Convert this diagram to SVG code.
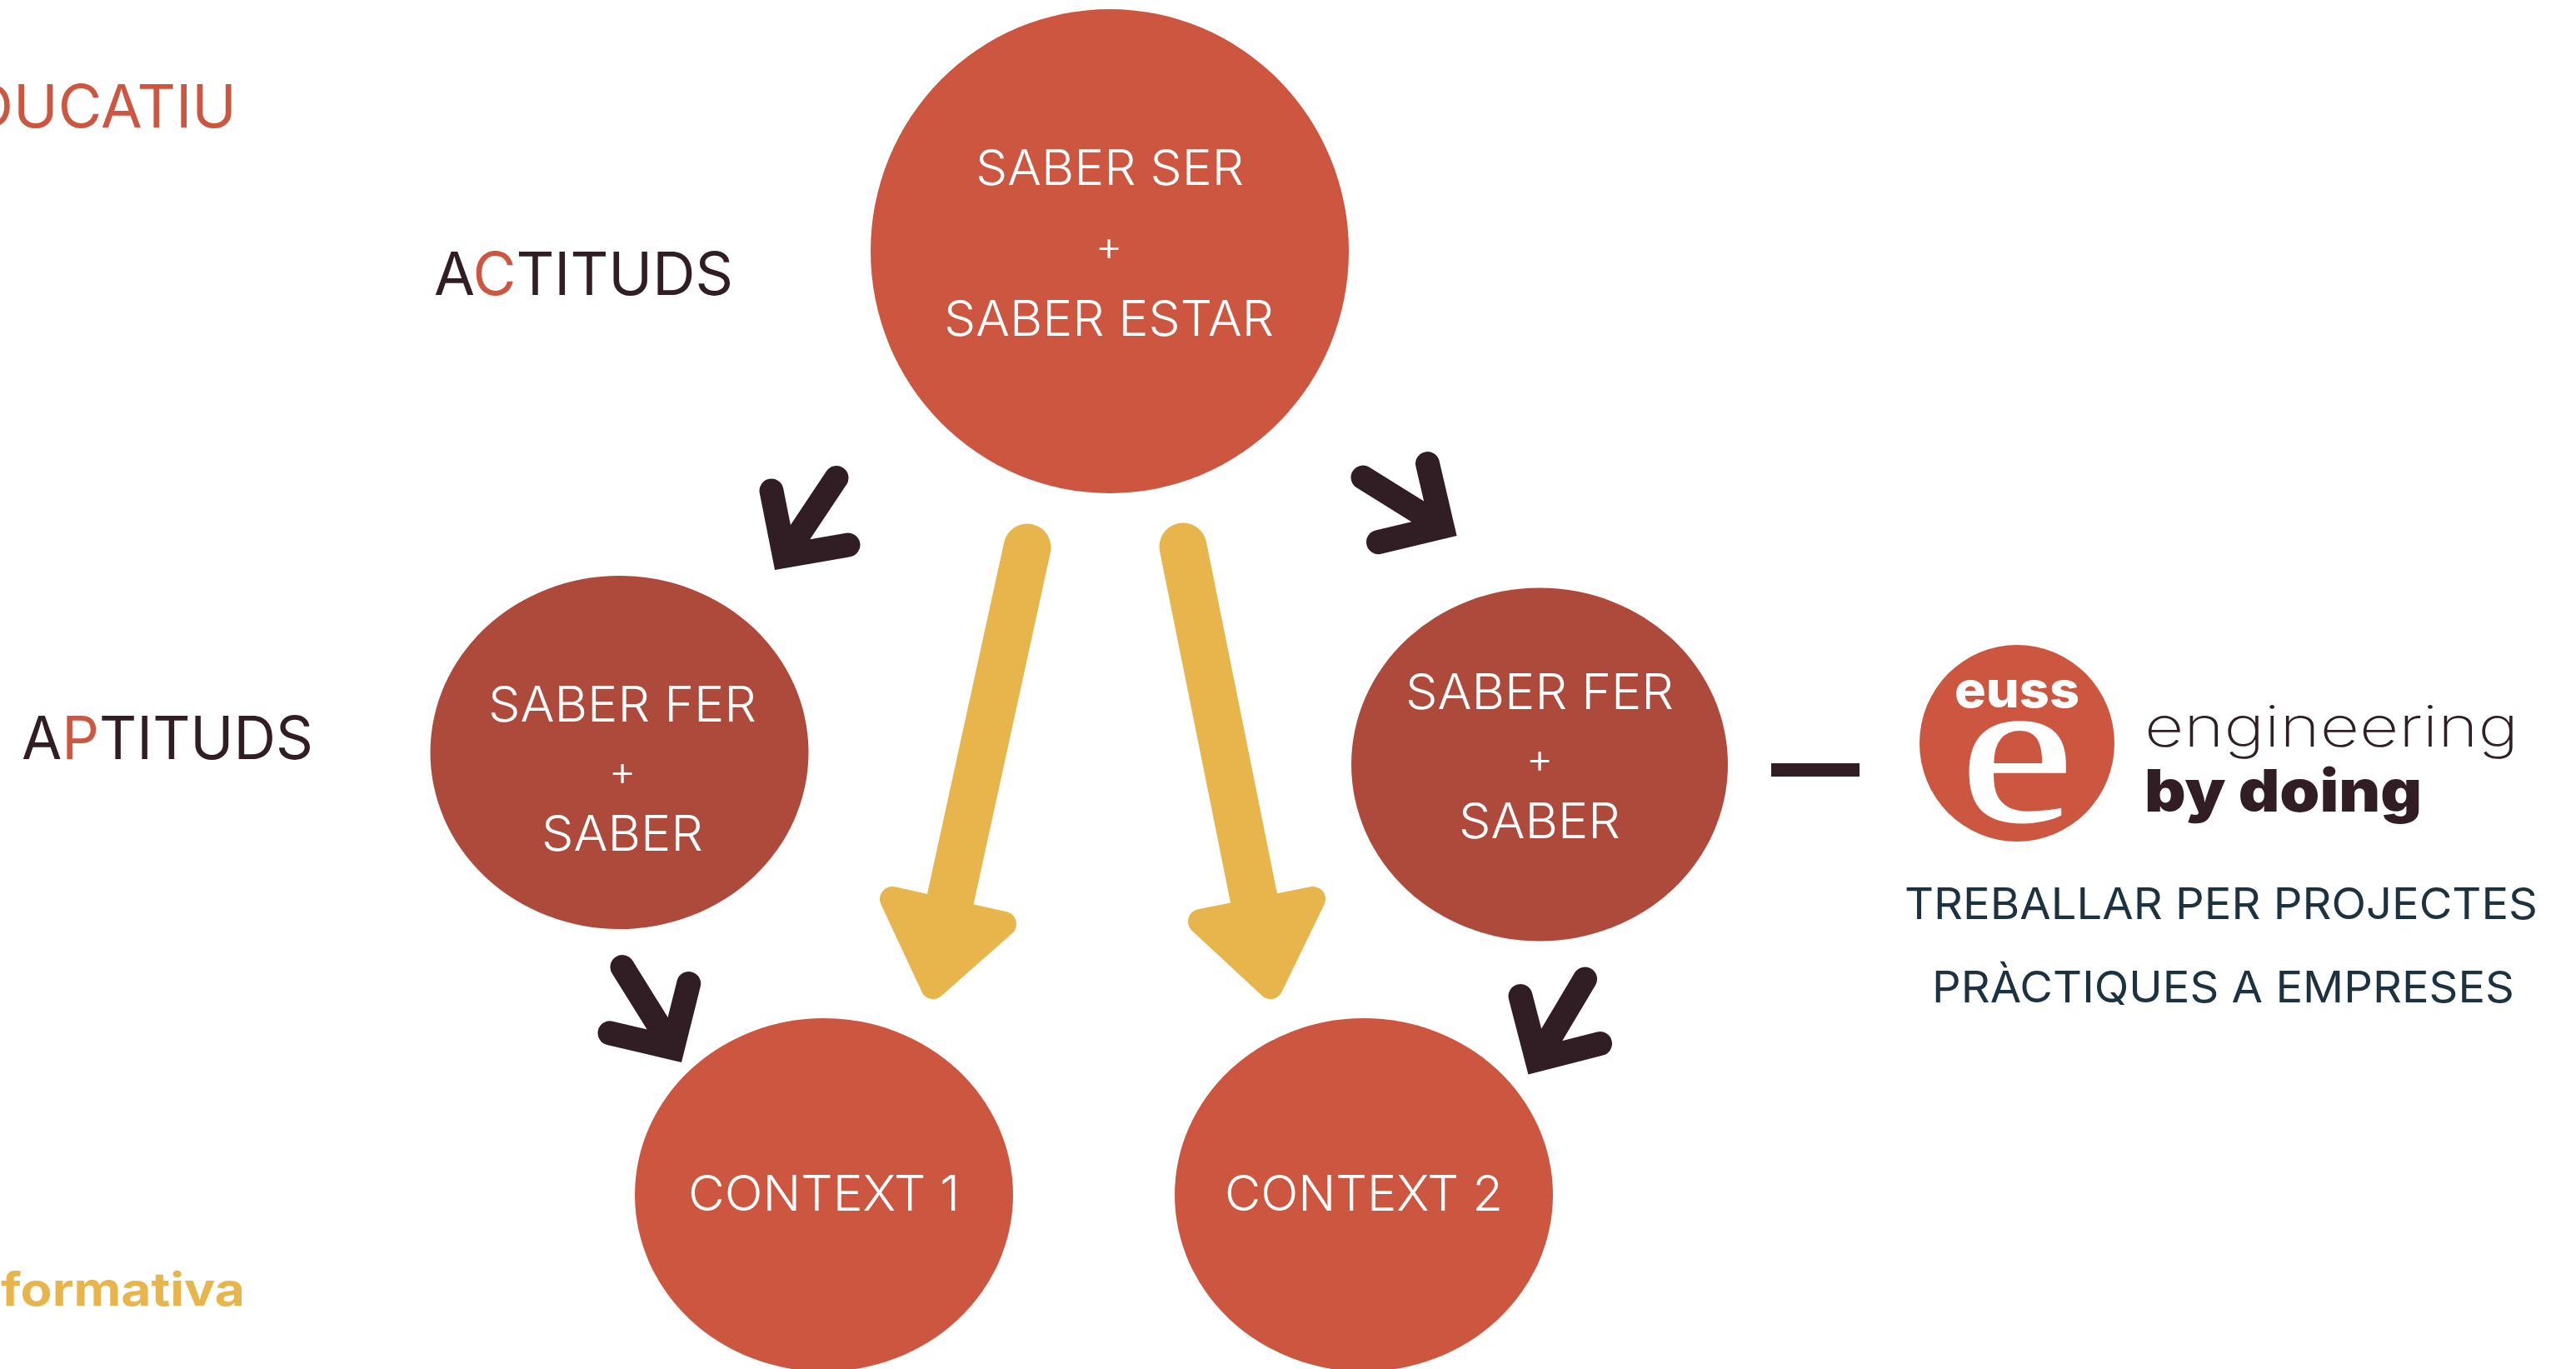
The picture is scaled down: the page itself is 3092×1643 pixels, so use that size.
<svg xmlns="http://www.w3.org/2000/svg" width="3092" height="1643" viewBox="0 0 3092 1643">
<style>
text{font-family:"Inter","Liberation Sans",sans-serif;font-weight:300;font-variant-ligatures:none}
.w{fill:#fff;font-size:59px;font-weight:350}
.p{fill:#fff;font-size:50px;text-anchor:middle}
.l{fill:#311D24;font-size:71px;font-weight:400}
.c{fill:#CC563F}
.n{fill:#1C3240;font-size:52px;font-weight:400}
.coral{fill:#CC563F}
.brick{fill:#AE4A3B}
.gold{fill:#E8B54D}
.dark{fill:#311D24}
.ga{fill:none;stroke:#E8B54D;stroke-width:57;stroke-linecap:round}
.gh{fill:#E8B54D;stroke:#E8B54D;stroke-width:30;stroke-linejoin:round}
.da{fill:none;stroke:#311D24;stroke-width:29;stroke-linecap:round;stroke-linejoin:miter}
</style>
<rect width="3092" height="1643" fill="#fff"/>
<g id="label-educatiu"><text class="l c" x="-36" y="153" textLength="320" lengthAdjust="spacingAndGlyphs">DUCATIU</text></g>
<g id="label-actituds"><text class="l" x="521" y="354" textLength="359" lengthAdjust="spacingAndGlyphs">A<tspan class="c">C</tspan>TITUDS</text></g>
<g id="label-aptituds"><text class="l" x="26" y="911" textLength="350" lengthAdjust="spacingAndGlyphs">A<tspan class="c">P</tspan>TITUDS</text></g>
<g id="label-formativa"><text x="1" y="1567" textLength="293" lengthAdjust="spacingAndGlyphs" style="font-size:55px;font-weight:700;fill:#E8B54D">formativa</text></g>
<g id="node-saber-ser">
<ellipse class="coral" cx="1332" cy="301.5" rx="287" ry="290.5"/>
<text class="w" x="1171" y="222" textLength="322" lengthAdjust="spacingAndGlyphs">SABER SER</text>
<text class="p" x="1331" y="313">+</text>
<text class="w" x="1133" y="403" textLength="396" lengthAdjust="spacingAndGlyphs">SABER ESTAR</text>
</g>
<g id="node-saber-fer-1">
<ellipse class="brick" cx="743.5" cy="903" rx="227" ry="212"/>
<text class="w" x="586" y="866" textLength="322" lengthAdjust="spacingAndGlyphs">SABER FER</text>
<text class="p" x="747" y="943">+</text>
<text class="w" x="650" y="1021" textLength="194" lengthAdjust="spacingAndGlyphs">SABER</text>
</g>
<g id="node-saber-fer-2">
<ellipse class="brick" cx="1848" cy="917.5" rx="226" ry="212"/>
<text class="w" x="1687" y="851" textLength="322" lengthAdjust="spacingAndGlyphs">SABER FER</text>
<text class="p" x="1848" y="928">+</text>
<text class="w" x="1751" y="1006" textLength="194" lengthAdjust="spacingAndGlyphs">SABER</text>
</g>
<g id="node-context-1">
<ellipse class="coral" cx="989" cy="1434" rx="227" ry="212"/>
<text class="w" x="826" y="1453" textLength="326" lengthAdjust="spacingAndGlyphs">CONTEXT 1</text>
</g>
<g id="node-context-2">
<ellipse class="coral" cx="1637" cy="1434" rx="227" ry="212"/>
<text class="w" x="1470" y="1453" textLength="334" lengthAdjust="spacingAndGlyphs">CONTEXT 2</text>
</g>
<g id="connectors">
<path class="ga" d="M1233 657L1141 1078"/>
<path class="gh" d="M1071 1079L1205 1109L1120 1184Z"/>
<path class="ga" d="M1420 656L1505 1078"/>
<path class="gh" d="M1441 1106L1576 1079L1525 1184Z"/>
<path class="da" d="M926 589L941.5 667.3L1018 654M1004 573.5L941.5 667.3"/>
<path class="da" d="M1713.5 556.5L1731.2 632.3L1654.5 650.7M1636 573L1731.2 632.3"/>
<path class="da" d="M826.7 1180.5L807.4 1257.6L732 1239.8M747 1160.5L807.4 1257.6"/>
<path class="da" d="M1825 1195.5L1844.8 1271.9L1920.5 1252.5M1902.5 1175L1844.8 1271.9"/>
<rect class="dark" x="2126" y="916" width="106" height="16"/>
</g>
<g id="node-logo">
<ellipse class="coral" cx="2421" cy="892" rx="117" ry="118"/>
<text x="2346" y="849" textLength="150" lengthAdjust="spacingAndGlyphs" style="fill:#fff;font-size:60px;font-weight:800">euss</text>
<text transform="translate(2421 985) scale(1.22 1)" text-anchor="middle" style="fill:#fff;stroke:#fff;stroke-width:2;font-size:252px;font-weight:400;font-family:'Liberation Serif',serif">e</text>
<text x="2574" y="896" textLength="449" lengthAdjust="spacingAndGlyphs" style="fill:#311D24;font-size:68px;font-weight:200">engineering</text>
<text x="2574" y="974" textLength="333" lengthAdjust="spacingAndGlyphs" style="fill:#311D24;font-size:70px;font-weight:900">by doing</text>
</g>
<g id="node-treballar"><text class="n" x="2286" y="1103" textLength="760" lengthAdjust="spacingAndGlyphs">TREBALLAR PER PROJECTES</text></g>
<g id="node-practiques"><text class="n" x="2319" y="1203" textLength="699" lengthAdjust="spacingAndGlyphs">PRÀCTIQUES A EMPRESES</text></g>
</svg>
